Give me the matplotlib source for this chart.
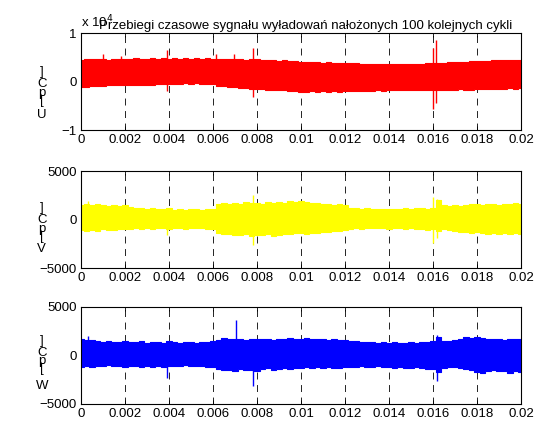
import numpy as np
import matplotlib
matplotlib.use('Agg')
import matplotlib.pyplot as plt

plt.rcParams.update({
    'font.family': ['Liberation Sans', 'DejaVu Sans'],
    'font.size': 9.5,
    'lines.scale_dashes': False,
})

# ── data (pC), envelope of 100 overlaid cycles, sampled every 0.25 ms ──
t = np.arange(81) * 0.00025

U_upper = [4500, 4650, 4550, 4700, 4600, 4500, 4650, 4600, 4700,
           4600, 4750, 4650, 4700, 4800, 4650, 4750, 4700,
           4800, 4700, 4750, 4650, 4800, 4700, 4750, 4650,
           4700, 4600, 4650, 4550, 4650, 4500, 4600, 4550,
           4500, 4400, 4450, 4300, 4350, 4200, 4250, 4100,
           4050, 4000, 3950, 3900, 3950, 3850, 3800, 3850,
           3800, 3750, 3700, 3650, 3700, 3600, 3650, 3550,
           3600, 3550, 3650, 3600, 3700, 3650, 3750, 3800,
           3850, 3900, 3950, 4000, 4100, 4050, 4150, 4200,
           4250, 4300, 4350, 4400, 4450, 4500, 4450, 4500]
U_lower = [-1200, -1100, -1000, -950, -900, -800, -750, -700, -650,
           -700, -650, -750, -700, -650, -600, -550, -500,
           -450, -500, -400, -450, -400, -500, -450, -600,
           -900, -1000, -1100, -1200, -1300, -1350, -1450, -1500,
           -1550, -1650, -1700, -1800, -1850, -1950, -2000, -2100,
           -2100, -2000, -2150, -2050, -2100, -2000, -2150, -2000,
           -2050, -1950, -2000, -1900, -1950, -1850, -1900, -1800,
           -1850, -1750, -1800, -1700, -1800, -1750, -1700, -1650,
           -1700, -1750, -1650, -1700, -1600, -1700, -1650, -1550,
           -1600, -1500, -1550, -1450, -1500, -1400, -1450, -1400]

V_upper = [1500, 1650, 1450, 1600, 1500, 1400, 1450, 1350, 1500,
           1300, 1200, 1150, 1100, 1150, 1050, 1100, 1150,
           1000, 1050, 1000, 1100, 1050, 1000, 1100, 1050,
           1600, 1700, 1550, 1700, 1650, 1800, 1700, 1750,
           1650, 1800, 1700, 1850, 1750, 1900, 1800, 1900,
           1800, 1700, 1750, 1600, 1650, 1500, 1550, 1450,
           1200, 1150, 1100, 1150, 1050, 1100, 1050, 1100,
           1100, 1050, 1150, 1100, 1200, 1150, 1100, 1200,
           2000, 1500, 1350, 1450, 1400, 1500, 1550, 1600,
           1500, 1650, 1600, 1500, 1600, 1550, 1700, 1600]
V_lower = [-1100, -1200, -1050, -1150, -1000, -1100, -1050, -950, -1000,
           -950, -900, -1000, -900, -950, -850, -900, -950,
           -900, -850, -950, -900, -850, -900, -950, -1000,
           -1400, -1500, -1450, -1600, -1550, -1500, -1650, -1550,
           -1600, -1500, -1650, -1550, -1450, -1500, -1400, -1350,
           -1450, -1350, -1400, -1300, -1250, -1200, -1150, -1100,
           -950, -900, -950, -850, -900, -850, -900, -950,
           -900, -850, -950, -900, -1000, -950, -1050, -1000,
           -1200, -1000, -1100, -1200, -1300, -1250, -1400, -1300,
           -1350, -1450, -1400, -1500, -1350, -1450, -1400, -1500]

W_upper = [1700, 1600, 1550, 1500, 1400, 1450, 1350, 1400, 1500,
           1400, 1350, 1450, 1300, 1350, 1400, 1300, 1450,
           1350, 1300, 1400, 1350, 1300, 1400, 1350, 1500,
           1600, 1800, 1700, 1650, 1750, 1600, 1700, 1650,
           1700, 1750, 1600, 1700, 1650, 1800, 1700, 1750,
           1800, 1700, 1650, 1750, 1600, 1650, 1550, 1600,
           1500, 1450, 1400, 1350, 1400, 1300, 1350, 1300,
           1350, 1300, 1250, 1350, 1300, 1400, 1350, 1450,
           1900, 1500, 1450, 1550, 1700, 1900, 1850, 1950,
           1800, 1700, 1650, 1750, 1600, 1700, 1650, 1750]
W_lower = [-1200, -1100, -1150, -1050, -1100, -1000, -1100, -1050, -1150,
           -1100, -1050, -1150, -1100, -1200, -1100, -1150, -1100,
           -1050, -1100, -1000, -1050, -1100, -1050, -1150, -1200,
           -1400, -1500, -1450, -1550, -1400, -1500, -1450, -1550,
           -1400, -1300, -1450, -1350, -1250, -1400, -1300, -1250,
           -1200, -1300, -1150, -1250, -1200, -1300, -1250, -1200,
           -1150, -1200, -1100, -1150, -1200, -1100, -1150, -1200,
           -1250, -1200, -1300, -1250, -1200, -1300, -1350, -1400,
           -1700, -1300, -1200, -1150, -1300, -1400, -1500, -1700,
           -1800, -1600, -1500, -1650, -1550, -1800, -1600, -1700]

# isolated discharge spikes: time, max, min
U_spk_t = [0.00099, 0.0018, 0.0039, 0.00614, 0.00697, 0.00782, 0.0160, 0.01615]
U_spk_hi = [5600, 5200, 6400, 5600, 5600, 7000, 6900, 8600]
U_spk_lo = [0, 0, -2000, 0, 0, -3100, -5700, -4400]

V_spk_t = [0.0003, 0.0039, 0.0078, 0.0160, 0.0162]
V_spk_hi = [1950, 1200, 2500, 2300, 2100]
V_spk_lo = [0, -1600, -2650, -2400, -1900]

W_spk_t = [0.0003, 0.0039, 0.00705, 0.00782, 0.0162]
W_spk_hi = [2000, 1300, 3650, 1700, 2100]
W_spk_lo = [0, -2300, 0, -3100, -2650]

x_ticks = [0, 0.002, 0.004, 0.006, 0.008, 0.01, 0.012, 0.014, 0.016, 0.018, 0.02]
x_ticklabels = ['0', '0.002', '0.004', '0.006', '0.008', '0.01',
                '0.012', '0.014', '0.016', '0.018', '0.02']

title = 'Przebiegi czasowe sygnału wyładowań nałożonych 100 kolejnych cykli'

channels = [
    dict(hi=U_upper, lo=U_lower, st=U_spk_t, sh=U_spk_hi, sl=U_spk_lo,
         color='#ff0000', scale=1e4, yticks=[-1, 0, 1], ylim=(-1, 1), name='U',
         ylab=[(']', 0.60), ('C', 0.47), ('p', 0.38), ('[', 0.30), ('U', 0.15)]),
    dict(hi=V_upper, lo=V_lower, st=V_spk_t, sh=V_spk_hi, sl=V_spk_lo,
         color='#ffff00', scale=1, yticks=[-5000, 0, 5000], ylim=(-5000, 5000), name='V',
         ylab=[(']', 0.62), ('C', 0.49), ('p', 0.40), ('[', 0.32), ('V', 0.20)]),
    dict(hi=W_upper, lo=W_lower, st=W_spk_t, sh=W_spk_hi, sl=W_spk_lo,
         color='#0000ff', scale=1, yticks=[-5000, 0, 5000], ylim=(-5000, 5000), name='W',
         ylab=[(']', 0.65), ('C', 0.53), ('p', 0.44), ('[', 0.36), ('W', 0.19)]),
]

fig = plt.figure(figsize=(5.37, 4.21), dpi=100)
bottoms = [0.6912, 0.3634, 0.0404]

for ch, b in zip(channels, bottoms):
    ax = fig.add_axes([0.1508, b, 0.8194, 0.2304])
    s = ch['scale']
    hi = np.array(ch['hi']) / s
    lo = np.array(ch['lo']) / s
    ax.fill_between(t, lo, hi, step='mid', color=ch['color'], lw=0, zorder=2)
    ax.plot(t, hi, drawstyle='steps-mid', color=ch['color'], lw=0.8, zorder=2)
    ax.plot(t, lo, drawstyle='steps-mid', color=ch['color'], lw=0.8, zorder=2)
    ax.vlines(ch['st'], np.array(ch['sl']) / s, np.array(ch['sh']) / s,
              color=ch['color'], lw=1.0, zorder=3)

    ax.set_xlim(0, 0.02)
    ax.set_ylim(*ch['ylim'])
    ax.set_xticks(x_ticks)
    ax.set_xticklabels(x_ticklabels)
    ax.set_yticks(ch['yticks'])
    ax.set_axisbelow(True)
    ax.grid(axis='x', color='k', lw=0.6, linestyle=(0, (5, 4)))
    ax.tick_params(direction='in', top=True, right=True, length=3, pad=3,
                   width=0.6, labelsize=9.5)
    for sp in ax.spines.values():
        sp.set_linewidth(0.8)

    for c, yf in ch['ylab']:
        ax.text(-0.089, yf, c, transform=ax.transAxes, ha='center', va='center',
                fontsize=9.5)

    if ch['name'] == 'U':
        ax.text(0.0, 1.03, 'x 10$^4$', transform=ax.transAxes, ha='left',
                va='bottom', fontsize=9.5)
        ax.set_title(title, fontsize=9.5, pad=3, x=0.51)

fig.savefig('out.png', dpi=100)
